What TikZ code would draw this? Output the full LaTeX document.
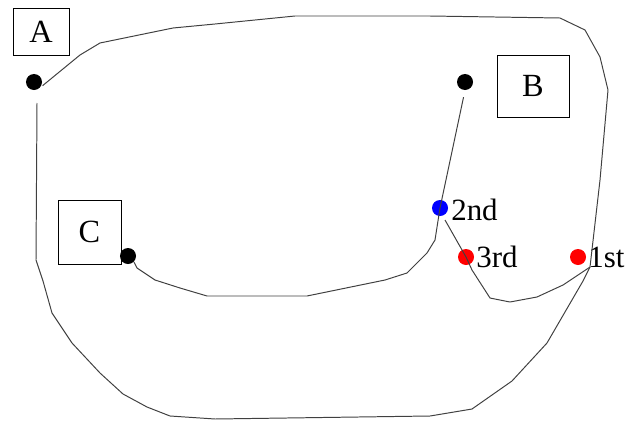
\documentclass[tikz,border=0pt]{standalone}
\usepackage{fontspec}
\setmainfont{Liberation Serif}

\begin{document}
\begin{tikzpicture}[x=0.025cm,y=-0.025cm,
  wire/.style={draw=black!75,line width=0.7pt,line join=round},
  dot/.style={circle,fill=#1,inner sep=0pt,minimum size=0.4cm},
  dot/.default=black,
  tag/.style={draw,line width=0.6pt,inner sep=0pt,font=\fontsize{23}{26}\selectfont},
  lbl/.style={anchor=base west,inner sep=0pt,font=\fontsize{22}{26}\selectfont}]
\useasboundingbox (0,0) rectangle (644,421);
% boxes
\node[tag,minimum width=1.4cm,minimum height=1.175cm] (boxA) at (41,31.5) {A};
\node[tag,minimum width=1.8cm,minimum height=1.55cm] (boxB) at (533,86) {B};
\node[tag,minimum width=1.575cm,minimum height=1.6cm] (boxC) at (89.5,232) {C};
% points
\node[dot] (a) at (34,82) {};
\node[dot] (b) at (465,82) {};
\node[dot] (c) at (128,256) {};
\node[dot=blue] (second) at (440,208) {};
\node[dot=red] (third) at (466,257) {};
\node[dot=red] (first) at (578,257) {};
\coordinate (j1) at (590,267);
\coordinate (aIn) at (37,103);
% labels
\node[lbl] (l2) at (451,220) {2nd};
\node[lbl] (l3) at (476,267) {3rd};
\node[lbl] (l1) at (588,267) {1st};
% outer loop, top and right
\draw[wire,shorten <=3pt] (a.-50) -- (80,55) -- (100,43) -- (173,28) -- (215,24)
  -- (295,16) -- (430,16) -- (560,18) -- (585,30) -- (600,57) -- (608,90)
  -- (600,180) -- (j1);
% outer loop, bottom and left
\draw[wire] (j1) -- (583,281) -- (547,343) -- (512,381) -- (472,409) -- (430,416)
  -- (215,419) -- (170,416) -- (147,407) -- (123,394) -- (100,373) -- (72,343)
  -- (52,313) -- (43,281) -- (36,260) -- (aIn);
% B to C through 2nd
\draw[wire,shorten <=5pt] (b.south) -- (second.center) -- (435,240) -- (427,253)
  -- (407,273) -- (385,280) -- (307,296) -- (207,296) -- (180,288) -- (155,280)
  -- (137,268) -- (c.south east);
% 2nd to 1st through 3rd
\draw[wire] (second.center) ++(5,12) coordinate (s1) (s1) -- (third.center)
  -- (472,270) -- (490,298) -- (510,302) -- (537,297) -- (563,285) -- (j1);
\end{tikzpicture}
\end{document}
